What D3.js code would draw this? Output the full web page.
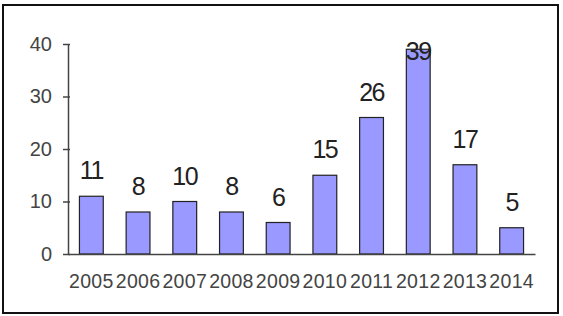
<!DOCTYPE html>
<html>
<head>
<meta charset="utf-8">
<script src="https://cdn.jsdelivr.net/npm/d3@7"></script>
<style>
  body { margin: 0; background: #fff; }
  svg { display: block; }
</style>
</head>
<body>
<div id="chart"></div>
<script>
const years = ["2005", "2006", "2007", "2008", "2009", "2010", "2011", "2012", "2013", "2014"];
const counts = [11, 8, 10, 8, 6, 15, 26, 39, 17, 5];
const yTicks = [0, 10, 20, 30, 40];

const width = 563, height = 316;
const margin = { top: 44, right: 28, bottom: 62, left: 68 };

const svg = d3.select("#chart").append("svg")
  .attr("width", width)
  .attr("height", height);

// outer frame
svg.append("rect")
  .attr("x", 3).attr("y", 5)
  .attr("width", 555).attr("height", 308)
  .attr("fill", "none")
  .attr("stroke", "#111")
  .attr("stroke-width", 2);

const x = d3.scaleBand()
  .domain(years)
  .range([margin.left, width - margin.right])
  .paddingInner(0.49)
  .paddingOuter(0.245);

const y = d3.scaleLinear()
  .domain([0, 40])
  .range([height - margin.bottom, margin.top]);

// bars
svg.append("g")
  .selectAll("rect")
  .data(counts)
  .join("rect")
    .attr("x", (d, i) => x(years[i]))
    .attr("y", d => y(d))
    .attr("width", x.bandwidth())
    .attr("height", d => y(0) - y(d))
    .attr("fill", "#9999ff")
    .attr("stroke", "#222")
    .attr("stroke-width", 1.2);

// value labels
svg.append("g")
  .attr("font-family", "Liberation Sans, Arial, sans-serif")
  .attr("font-size", 25)
  .attr("letter-spacing", -1.5)
  .attr("fill", "#222")
  .attr("text-anchor", "middle")
  .selectAll("text")
  .data(counts)
  .join("text")
    .attr("x", (d, i) => x(years[i]) + x.bandwidth() / 2)
    .attr("y", d => Math.max(y(d) - 17, y(40) + 16))
    .text(d => d);

// y axis
const yAxis = svg.append("g")
  .attr("transform", `translate(${margin.left},0)`)
  .call(d3.axisLeft(y).tickValues(yTicks).tickSize(5).tickSizeOuter(0).tickPadding(11));
yAxis.select(".domain").attr("stroke", "#444").attr("stroke-width", 1.5);
yAxis.selectAll(".tick line").attr("stroke", "#444").attr("stroke-width", 1.5)
  .attr("x1", 2);
yAxis.selectAll(".tick text")
  .attr("font-family", "Liberation Sans, Arial, sans-serif")
  .attr("font-size", 20)
  .attr("fill", "#444");

// x axis
const xAxis = svg.append("g")
  .attr("transform", `translate(0,${y(0)})`)
  .call(d3.axisBottom(x).tickSize(0).tickSizeOuter(0).tickPadding(20));
xAxis.select(".domain").attr("stroke", "#444").attr("stroke-width", 1.5);
xAxis.selectAll(".tick text")
  .attr("font-family", "Liberation Sans, Arial, sans-serif")
  .attr("font-size", 19.5)
  .attr("letter-spacing", 0.3)
  .attr("fill", "#444");
</script>
</body>
</html>
